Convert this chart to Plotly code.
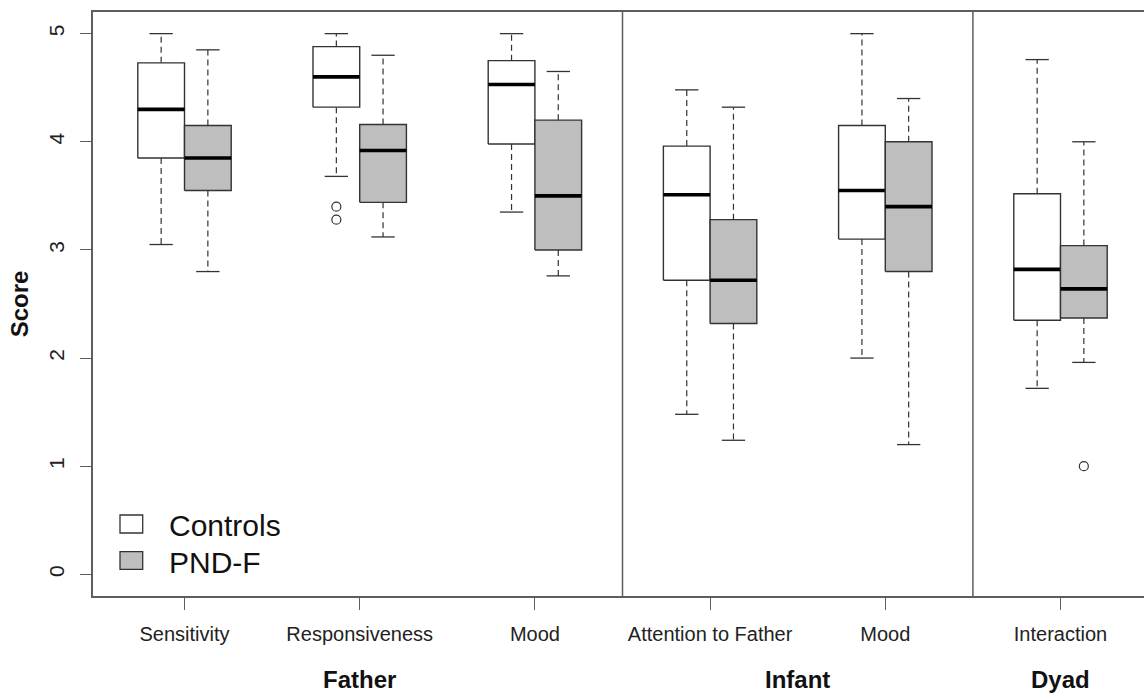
import plotly.graph_objects as go

# ---- data ----
categories = ["Sensitivity", "Responsiveness", "Mood", "Attention to Father", "Mood", "Interaction"]
groups = ["Father", "Infant", "Dyad"]
group_sizes = [3, 2, 1]
series_names = ["Controls", "PND-F"]

ctrl_low = [3.05, 3.68, 3.35, 1.48, 2.00, 1.72]
ctrl_q1 = [3.85, 4.32, 3.98, 2.72, 3.10, 2.35]
ctrl_med = [4.30, 4.60, 4.53, 3.51, 3.55, 2.82]
ctrl_q3 = [4.73, 4.88, 4.75, 3.96, 4.15, 3.52]
ctrl_high = [5.00, 5.00, 5.00, 4.48, 5.00, 4.76]
ctrl_out = [[], [3.40, 3.28], [], [], [], []]

pnd_low = [2.80, 3.12, 2.76, 1.24, 1.20, 1.96]
pnd_q1 = [3.55, 3.44, 3.00, 2.32, 2.80, 2.37]
pnd_med = [3.85, 3.92, 3.50, 2.72, 3.40, 2.64]
pnd_q3 = [4.15, 4.16, 4.20, 3.28, 4.00, 3.04]
pnd_high = [4.85, 4.80, 4.65, 4.32, 4.40, 4.00]
pnd_out = [[], [], [], [], [], [1.00]]

y_ticks = [0, 1, 2, 3, 4, 5]

# ---- styling ----
W, H = 1144, 693
L, R_, T, B = 93, 0, 12, 97
half = 0.1333      # box width (each) in x units
cap = 0.0666       # whisker cap half-width
offsets = [-half, half]
fills = ["#ffffff", "#bebebe"]
edge = "#333333"
frame = "#5e5e5e"
font_family = "Liberation Sans, Arial, sans-serif"

series = [
    (ctrl_low, ctrl_q1, ctrl_med, ctrl_q3, ctrl_high, ctrl_out),
    (pnd_low, pnd_q1, pnd_med, pnd_q3, pnd_high, pnd_out),
]

fig = go.Figure()

for s, (lo, q1, med, q3, hi, out) in enumerate(series):
    wx, wy, cx_, cy_, bx, by, mx, my, ox, oy = [], [], [], [], [], [], [], [], [], []
    for i in range(len(categories)):
        xc = i + 1 + offsets[s]
        # whiskers
        wx += [xc, xc, None, xc, xc, None]
        wy += [q3[i], hi[i], None, q1[i], lo[i], None]
        # caps
        cx_ += [xc - cap, xc + cap, None, xc - cap, xc + cap, None]
        cy_ += [hi[i], hi[i], None, lo[i], lo[i], None]
        # box
        bx += [xc - half, xc + half, xc + half, xc - half, xc - half, None]
        by += [q1[i], q1[i], q3[i], q3[i], q1[i], None]
        # median
        mx += [xc - half, xc + half, None]
        my += [med[i], med[i], None]
        for v in out[i]:
            ox.append(xc)
            oy.append(v)
    fig.add_trace(go.Scatter(x=wx, y=wy, mode="lines", showlegend=False, hoverinfo="skip",
                             line=dict(color=edge, width=1.2, dash="6px,4px")))
    fig.add_trace(go.Scatter(x=bx, y=by, mode="lines", fill="toself", fillcolor=fills[s],
                             name=series_names[s], showlegend=False, hoverinfo="skip",
                             line=dict(color=edge, width=1.4)))
    fig.add_trace(go.Scatter(x=mx, y=my, mode="lines", showlegend=False, hoverinfo="skip",
                             line=dict(color="#000000", width=3.6)))
    fig.add_trace(go.Scatter(x=cx_, y=cy_, mode="lines", showlegend=False, hoverinfo="skip",
                             line=dict(color=edge, width=1.3)))
    if ox:
        fig.add_trace(go.Scatter(x=ox, y=oy, mode="markers", showlegend=False, hoverinfo="skip",
                                 marker=dict(symbol="circle-open", size=9, color=edge,
                                             line=dict(width=1.2, color=edge))))

# group dividers and group labels
shapes = []
annotations = []
start = 0
for g, n in zip(groups, group_sizes):
    centre = start + 1 + (n - 1) / 2
    annotations.append(dict(x=centre, xref="x", y=-0.1438, yref="paper", text="<b>%s</b>" % g,
                            showarrow=False, xanchor="center", yanchor="middle",
                            font=dict(size=24, color="#111111", family=font_family)))
    start += n
    if start < len(categories):
        shapes.append(dict(type="line", xref="x", yref="paper", x0=start + 0.5, x1=start + 0.5,
                           y0=0, y1=1, line=dict(color=frame, width=1.5)))

# legend (drawn manually)
pw = W - L - R_
ph = H - T - B
def px_x(p):
    return (p - L) / pw
def px_y(p):
    return (H - B - p) / ph
leg_rows = [(515, 533, 525), (551.7, 569.3, 562)]
for s, (y0, y1, yc) in enumerate(leg_rows):
    shapes.append(dict(type="rect", xref="paper", yref="paper", x0=px_x(120), x1=px_x(142.7),
                       y0=px_y(y1), y1=px_y(y0), fillcolor=fills[s], line=dict(color=edge, width=1.3)))
    annotations.append(dict(x=px_x(167), xref="paper", y=px_y(yc), yref="paper", text=series_names[s],
                            showarrow=False, xanchor="left", yanchor="middle",
                            font=dict(size=30, color="#111111", family=font_family)))

fig.update_layout(
    width=W, height=H,
    margin=dict(l=L, r=R_, t=T, b=B, autoexpand=False),
    paper_bgcolor="white", plot_bgcolor="white",
    showlegend=False,
    shapes=shapes, annotations=annotations,
    font=dict(family=font_family, color="#222222"),
    xaxis=dict(range=[0.4777, 6.4766], tickmode="array", tickvals=list(range(1, len(categories) + 1)),
               ticktext=categories, showgrid=False, zeroline=False,
               showline=True, mirror=True, linecolor=frame, linewidth=1.5,
               ticks="outside", ticklen=12, tickwidth=1.3, tickcolor=frame,
               ticklabelstandoff=7,
               tickfont=dict(size=20, color="#222222", family=font_family)),
    yaxis=dict(range=[-0.2, 5.2], tickmode="array", tickvals=y_ticks,
               ticktext=[str(v) for v in y_ticks], tickangle=-90,
               showgrid=False, zeroline=False,
               showline=True, linecolor=frame, linewidth=1.5,
               ticks="outside", ticklen=11, tickwidth=1.3, tickcolor=frame,
               ticklabelstandoff=8,
               tickfont=dict(size=21, color="#222222", family=font_family),
               title=dict(text="<b>Score</b>", standoff=9,
                          font=dict(size=24, color="#111111", family=font_family))),
)

fig.write_html("out.html", config={"displayModeBar": False},
               post_script="document.body.style.margin='0';document.body.style.overflow='hidden';")
